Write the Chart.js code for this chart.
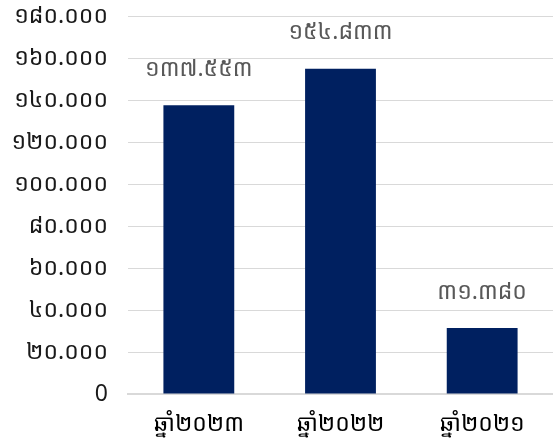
<!DOCTYPE html>
<html>
<head>
<meta charset="utf-8">
<script src="https://cdn.jsdelivr.net/npm/chart.js@4"></script>
<style>
  html, body { margin: 0; padding: 0; background: #fff; }
  #wrap { width: 553px; height: 442px; }
</style>
</head>
<body>
<div id="wrap"><canvas id="myChart"></canvas></div>
<script>
const years = ['ឆ្នាំ២០២៣', 'ឆ្នាំ២០២២', 'ឆ្នាំ២០២១'];
const totals = [137553, 154833, 31380];
const totalLabels = ['១៣៧.៥៥៣', '១៥៤.៨៣៣', '៣១.៣៨០'];
const tickLabels = ['0', '២០.០០០', '៤០.០០០', '៦០.០០០', '៨០.០០០', '១០០.០០០', '១២០.០០០', '១៤០.០០០', '១៦០.០០០', '១៨០.០០០'];

const khmerFont = "'Khmer OS', 'Noto Sans Khmer', 'Noto Sans', sans-serif";

// value labels above the bars
const topLabels = {
  id: 'topLabels',
  afterDatasetsDraw(chart) {
    const ctx = chart.ctx;
    const meta = chart.getDatasetMeta(0);
    ctx.save();
    ctx.font = '23px ' + khmerFont;
    ctx.fillStyle = '#595959';
    ctx.textAlign = 'center';
    ctx.textBaseline = 'middle';
    meta.data.forEach((bar, i) => {
      ctx.fillText(totalLabels[i], bar.x, bar.y - 36);
    });
    ctx.restore();
  }
};

const data = {
  labels: years,
  datasets: [{
    data: totals,
    backgroundColor: '#002060',
    borderWidth: 0,
    barPercentage: 0.5,
    categoryPercentage: 1
  }]
};

const config = {
  type: 'bar',
  data: data,
  options: {
    responsive: true,
    maintainAspectRatio: false,
    animation: false,
    layout: { padding: { top: 16, right: 0, left: 4, bottom: 0 } },
    plugins: {
      legend: { display: false },
      tooltip: { enabled: false }
    },
    scales: {
      x: {
        grid: { display: false },
        border: { color: '#d9d9d9', width: 2 },
        ticks: { color: '#000', font: { size: 23, family: khmerFont }, padding: 9 },
        afterFit(axis) {
          axis.height = 48;
          axis.paddingLeft = 0;
          axis.paddingRight = 0;
        }
      },
      y: {
        min: 0,
        max: 180000,
        afterBuildTicks(axis) {
          axis.ticks = tickLabels.map((t, i) => ({ value: i * 20000 }));
        },
        grid: { color: '#d9d9d9', lineWidth: 1, drawTicks: false },
        border: { display: false },
        ticks: {
          color: '#1a1a1a',
          font: { size: 23, family: khmerFont },
          padding: 20,
          callback: (v, i) => tickLabels[i]
        },
        afterFit(axis) {
          axis.width = 124;
          axis.paddingTop = 0;
          axis.paddingBottom = 0;
        }
      }
    }
  },
  plugins: [topLabels]
};

const ctx = document.getElementById('myChart');
const myChart = new Chart(ctx, config);
</script>
</body>
</html>
